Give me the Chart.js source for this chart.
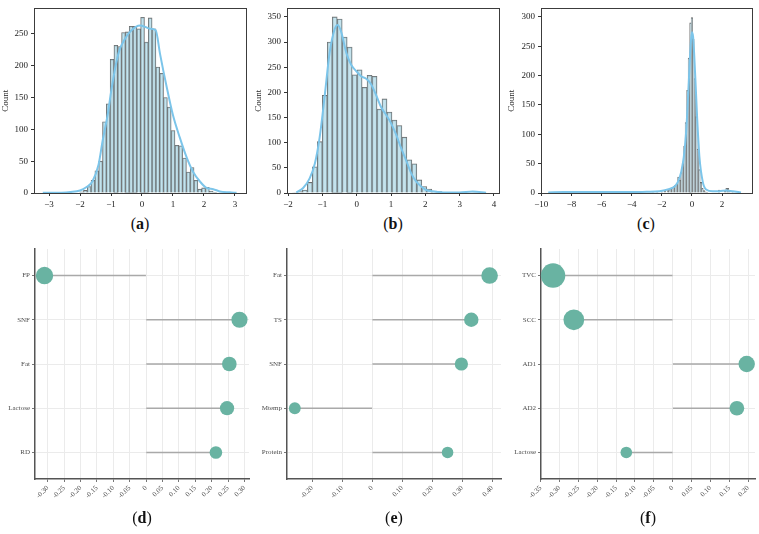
<!DOCTYPE html>
<html><head><meta charset="utf-8">
<script src="https://cdn.jsdelivr.net/npm/chart.js@4/dist/chart.umd.min.js"></script>
<style>
html,body{margin:0;padding:0;background:#fff;}
body{width:759px;height:534px;position:relative;overflow:hidden;font-family:"Liberation Serif",serif;}
canvas{position:absolute;}
.lab{position:absolute;font-size:16px;line-height:16px;width:60px;margin-left:-30px;text-align:center;color:#111;font-family:"Liberation Serif",serif;}
</style></head><body>
<canvas id="ca" width="253" height="212" style="left:0;top:0"></canvas>
<canvas id="cb" width="253" height="212" style="left:253px;top:0"></canvas>
<canvas id="cc" width="253" height="212" style="left:506px;top:0"></canvas>
<canvas id="cd" width="253" height="270" style="left:0;top:240px"></canvas>
<canvas id="ce" width="253" height="270" style="left:253px;top:240px"></canvas>
<canvas id="cf" width="253" height="270" style="left:506px;top:240px"></canvas>
<div class="lab" style="left:140px;top:216px">(<b>a</b>)</div>
<div class="lab" style="left:393px;top:216px">(<b>b</b>)</div>
<div class="lab" style="left:646px;top:216px">(<b>c</b>)</div>
<div class="lab" style="left:142px;top:510px">(<b>d</b>)</div>
<div class="lab" style="left:394px;top:510px">(<b>e</b>)</div>
<div class="lab" style="left:648px;top:510px">(<b>f</b>)</div>
<script>
// ---------- Panel (a) histogram ----------
const aBins = [-1.95,-1.827,-1.704,-1.581,-1.458,-1.335,-1.212,-1.089,-0.966,-0.843,-0.72,-0.597,-0.474,-0.351,-0.228,-0.105,0.018,0.141,0.264,0.387,0.51,0.633,0.756,0.879,1.002,1.125,1.248,1.371,1.494,1.617,1.74,1.863,1.986,2.109,2.232,2.355];
const aCounts = [2,4,10,20,35,50,112,140,210,232,230,252,253,262,262,258,276,237,275,258,198,188,150,135,98,75,74,55,33,40,20,6,8,9,3,1];
const aKdeX = [-3.2,-2.6,-2.3,-2.0,-1.8,-1.6,-1.4,-1.27,-1.1,-1.0,-0.85,-0.73,-0.55,-0.41,-0.2,-0.05,0.1,0.25,0.44,0.58,0.79,1.0,1.22,1.44,1.65,1.87,2.08,2.3,2.51,2.83,3.05];
const aKdeY = [0.3,0.5,1.5,4,9,18,45,82,125,158,200,224,242,252,261,263,261,258,256,219,168,122,87,56,33,18,8,6,2.5,1,0.3];
const aXTicks = [-3,-2,-1,0,1,2,3];
const aYTicks = [0,50,100,150,200,250];

// ---------- Panel (b) histogram ----------
const bBins = [-1.80,-1.655,-1.51,-1.365,-1.22,-1.075,-0.93,-0.785,-0.64,-0.495,-0.35,-0.205,-0.06,0.085,0.23,0.375,0.52,0.665,0.81,0.955,1.10,1.245,1.39,1.535,1.68,1.825,1.97,2.115,2.26,2.405,2.55,3.42];
const bCounts = [1,3,6,21,52,102,194,300,350,346,310,290,235,245,210,234,232,167,187,161,145,134,111,66,58,26,13,8,4,3,1,1];
const bKdeX = [-1.76,-1.56,-1.37,-1.22,-1.08,-0.93,-0.79,-0.64,-0.55,-0.45,-0.30,-0.16,-0.01,0.13,0.28,0.42,0.57,0.71,0.86,1.00,1.15,1.29,1.44,1.59,1.73,1.88,2.02,2.26,2.6,2.99,3.38,3.77];
const bKdeY = [1,10,29,58,110,194,278,326,334,320,278,255,242,232,227,216,194,171,155,139,116,90,65,39,23,13,6,3,1,1,3,0.5];
const bXTicks = [-2,-1,0,1,2,3,4];
const bYTicks = [0,50,100,150,200,250,300,350];

// ---------- Panel (c) histogram ----------
const cBins = [-9.3,-5.9,-4.2,-2.6,-2.3,-2.0,-1.8,-1.6,-1.5,-1.4,-1.3,-1.2,-1.1,-1.0,-0.9,-0.8,-0.7,-0.6,-0.5,-0.4,-0.3,-0.2,-0.1,0.0,0.1,0.2,0.3,0.4,0.5,0.6,0.7,0.8,0.9,1.0,1.8,2.2,2.3,2.4,2.5,2.7];
const cCounts = [1,1,2,3,2,2,3,4,6,8,9,11,13,16,27,22,35,50,80,120,175,230,290,299,262,195,130,75,40,18,8,4,2,1,5,4,8,8,3,2];
const cKdeX = [-9.54,-8.5,-7,-5.5,-4,-3,-2.15,-1.48,-1.15,-0.93,-0.71,-0.54,-0.38,-0.23,-0.09,0.0,0.08,0.21,0.35,0.50,0.72,0.94,1.38,1.82,2.27,2.71,3.26];
const cKdeY = [1,1.5,1.5,1.5,1.5,2,3,7,11,19,36,61,105,177,249,274,266,205,127,61,19,6,3,3,4.4,3,1];
const cXTicks = [-10,-8,-6,-4,-2,0,2];
const cYTicks = [0,50,100,150,200,250,300];

// ---------- Panel (d) lollipop ----------
const dCats = ['FP','SNF','Fat','Lactose','RD'];
const dVals = [-0.310,0.285,0.254,0.247,0.213];
const dTicks = [-0.30,-0.25,-0.20,-0.15,-0.10,-0.05,0,0.05,0.10,0.15,0.20,0.25,0.30];
const dTickLabels = ['-0.30','-0.25','-0.20','-0.15','-0.10','-0.05','0','0.05','0.10','0.15','0.20','0.25','0.30'];

// ---------- Panel (e) lollipop ----------
const eCats = ['Fat','TS','SNF','Mtemp','Protein'];
const eVals = [0.391,0.330,0.297,-0.258,0.251];
const eTicks = [-0.20,-0.10,0,0.10,0.20,0.30,0.40];
const eTickLabels = ['-0.20','-0.10','0','0.10','0.20','0.30','0.40'];

// ---------- Panel (f) lollipop ----------
const fCats = ['TVC','SCC','AD1','AD2','Lactose'];
const fVals = [-0.317,-0.262,0.196,0.170,-0.123];
const fTicks = [-0.35,-0.30,-0.25,-0.20,-0.15,-0.10,-0.05,0,0.05,0.10,0.15,0.20];
const fTickLabels = ['-0.35','-0.30','-0.25','-0.20','-0.15','-0.10','-0.05','0','0.05','0.10','0.15','0.20'];

Chart.defaults.font.family = '"Liberation Serif", "Times New Roman", serif';

const frame = {
  id:'frame',
  afterDatasetsDraw(chart){
    const a = chart.chartArea, c = chart.ctx;
    c.save(); c.strokeStyle = '#3c3c3c'; c.lineWidth = 1;
    c.strokeRect(Math.round(a.left)+0.5, Math.round(a.top)+0.5, Math.round(a.right-a.left), Math.round(a.bottom-a.top));
    c.restore();
  }
};
const fmt = v => (v < 0 ? '\u2212' + Math.abs(v) : String(v));

function histChart(id, o){
  new Chart(document.getElementById(id), {
    type:'bar',
    data:{datasets:[
      {type:'line', data:o.kx.map((x,i)=>({x:x, y:o.ky[i]})), borderColor:'#7cc5ea', borderWidth:2,
       pointRadius:0, cubicInterpolationMode:'monotone', fill:false, order:0},
      {type:'bar', data:o.bx.map((x,i)=>({x:x, y:o.by[i]})), backgroundColor:'rgba(173,216,230,0.72)',
       borderColor:'#6b6b6b', borderWidth:0.8, barPercentage:1, categoryPercentage:1, grouped:false, order:1}
    ]},
    options:{
      responsive:false, animation:false, events:[],
      layout:{autoPadding:false, padding:{top:4, right:o.pr, left:0, bottom:0}},
      plugins:{legend:{display:false}, tooltip:{enabled:false}},
      scales:{
        x:{type:'linear', offset:false, min:o.xmin, max:o.xmax,
           afterBuildTicks:s=>{s.ticks = o.xt.map(v=>({value:v}));},
           afterFit:s=>{s.height = 19;},
           grid:{offset:false, drawOnChartArea:false, drawTicks:true, tickLength:3, tickColor:'#333'},
           border:{display:false},
           ticks:{font:{size:9}, color:'#222', padding:3, maxRotation:0, autoSkip:false, callback:v=>fmt(v)}},
        y:{type:'linear', min:0, max:o.ymax,
           afterBuildTicks:s=>{s.ticks = o.yt.map(v=>({value:v}));},
           afterFit:s=>{s.width = o.left;},
           grid:{offset:false, drawOnChartArea:false, drawTicks:true, tickLength:3, tickColor:'#333'},
           border:{display:false},
           title:{display:true, text:'Count', font:{size:9}, color:'#222', padding:{top:0,bottom:2}},
           ticks:{font:{size:9}, color:'#222', padding:3, autoSkip:false, callback:v=>String(v)}}
      }
    },
    plugins:[frame]
  });
}

function lolliChart(id, o){
  const ab = o.vals.map(v=>Math.abs(v));
  const mn = Math.min(...ab), mx = Math.max(...ab);
  const rad = v => o.rmin + (Math.abs(v)-mn)/(mx-mn)*(o.rmax-o.rmin);
  const gridCfg = {offset:false, color:'#ebebeb', lineWidth:1, drawTicks:true, tickLength:3, tickColor:'#777'};
  new Chart(document.getElementById(id), {
    type:'bubble',
    data:{datasets:[
      {type:'bar', indexAxis:'y', data:o.vals.map((v,i)=>({x:[0,v], y:i})), backgroundColor:'#a9a9a9',
       barThickness:1, grouped:false, borderWidth:0, order:1},
      {type:'bubble', data:o.vals.map((v,i)=>({x:v, y:i, r:rad(v)})), backgroundColor:'#69b3a2',
       borderWidth:0, order:0, clip:false}
    ]},
    options:{
      responsive:false, animation:false, events:[],
      layout:{autoPadding:false, padding:{top:9, right:o.pr, left:0, bottom:0}},
      plugins:{legend:{display:false}, tooltip:{enabled:false}},
      scales:{
        x:{type:'linear', offset:false, min:o.xmin, max:o.xmax,
           afterBuildTicks:s=>{s.ticks = o.xt.map(v=>({value:v}));},
           afterFit:s=>{s.height = 31;},
           grid:gridCfg,
           border:{display:true, color:'#555', width:1.5},
           ticks:{font:{size:7}, color:'#4d4d4d', padding:2, minRotation:45, maxRotation:45, autoSkip:false,
                  callback:(v,i)=>o.xl[i]}},
        y:{type:'linear', reverse:true, min:-0.6, max:4.6, offset:false,
           afterBuildTicks:s=>{s.ticks = o.cats.map((c,i)=>({value:i}));},
           afterFit:s=>{s.width = o.left;},
           grid:gridCfg,
           border:{display:true, color:'#555', width:1.5},
           ticks:{font:{size:7}, color:'#4d4d4d', padding:2, autoSkip:false, callback:v=>o.cats[v]}}
      }
    }
  });
}

histChart('ca', {bx:aBins, by:aCounts, kx:aKdeX, ky:aKdeY, xt:aXTicks, yt:aYTicks, xmin:-3.484, xmax:3.355, ymax:290, left:34, pr:7});
histChart('cb', {bx:bBins, by:bCounts, kx:bKdeX, ky:bKdeY, xt:bXTicks, yt:bYTicks, xmin:-2.03, xmax:4.146, ymax:367, left:34, pr:7});
histChart('cc', {bx:cBins, by:cCounts, kx:cKdeX, ky:cKdeY, xt:cXTicks, yt:cYTicks, xmin:-10.02, xmax:3.99, ymax:314.5, left:35, pr:7});

lolliChart('cd', {cats:dCats, vals:dVals, xt:dTicks, xl:dTickLabels, xmin:-0.339, xmax:0.314, left:35, pr:4, rmin:6.3, rmax:8.7});
lolliChart('ce', {cats:eCats, vals:eVals, xt:eTicks, xl:eTickLabels, xmin:-0.284, xmax:0.429, left:34, pr:5, rmin:5.8, rmax:8.3});
lolliChart('cf', {cats:fCats, vals:fVals, xt:fTicks, xl:fTickLabels, xmin:-0.349, xmax:0.218, left:35, pr:4, rmin:5.8, rmax:12.2});
</script>
</body></html>
